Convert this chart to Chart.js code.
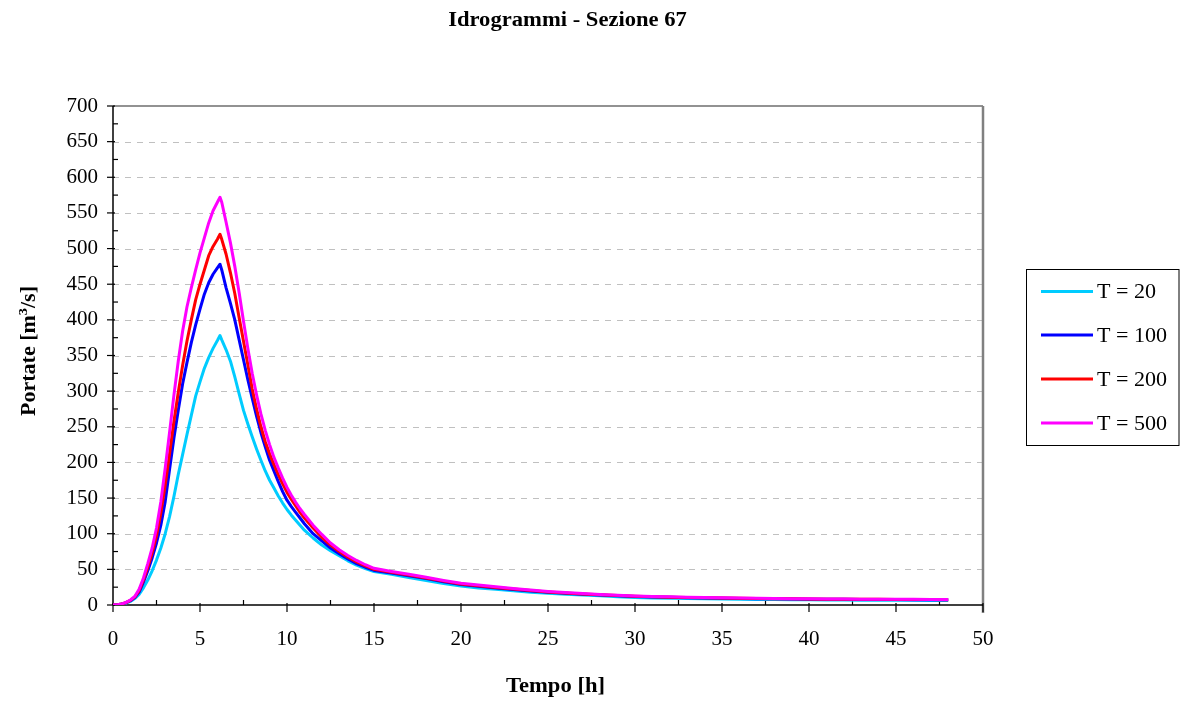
<!DOCTYPE html>
<html><head><meta charset="utf-8">
<script src="https://cdn.jsdelivr.net/npm/chart.js@4.4.1/dist/chart.umd.min.js"></script>
<style>html,body{margin:0;padding:0;background:#fff;}#wrap{width:1180px;height:709px;}</style>
</head><body><div id="wrap"><canvas id="c" width="1180" height="709"></canvas></div>
<script>
const chartTitle = 'Idrogrammi - Sezione 67';
const xTitle = 'Tempo [h]';
const yTitleMain = 'Portate [m';
const yTitleSup = '3';
const yTitleEnd = '/s]';
const seriesNames = ['T = 20', 'T = 100', 'T = 200', 'T = 500'];
const seriesColors = ['#00CCFF', '#0000FF', '#FF0000', '#FF00FF'];

const times = [0,0.25,0.5,0.75,
  1,1.25,1.5,1.75,2,2.25,2.5,2.75,3,3.25,3.5,3.75,4,4.25,4.5,4.75,5,5.25,5.5,5.75,6,
  6.15,
  6.25,6.5,6.75,7,7.25,7.5,7.75,8,8.25,8.5,8.75,9,9.25,9.5,9.75,10,10.25,10.5,10.75,11,
  11.5,12,12.5,13,13.5,14,14.5,15,
  16,17,18,19,20,21,22,23,24,25,26,27,28,29,30,31,32,33,34,35,36,37,38,39,40,41,42,43,44,45,46,47,48];

const q20 = [0,0.3,1,2.5,
  5,9,15,24,35,48,63,80,100,124,152,183,211,239,266,293,313,332,347,360,371,
  378,
  372,358,342,320,296,273,254,236,219,203,188,175,164,153,143,134,126,119,112,105,
  94,84,76,69,62,56,51,47,
  43,38.5,34.5,30,26.5,24,22,20,18,16.5,15.2,14,12.8,11.6,10.5,9.9,9.4,9,8.6,8.3,8,7.8,7.6,7.4,7.2,7,6.9,6.8,6.7,6.6,6.5,6.4,6.3];
const q100 = [0,0.3,1.3,3.2,
  6,10.5,18,32,48,66,87,112,145,190,234,273,310,340,368,393,415,436,452,464,473,
  478,
  470,445,423,400,372,344,316,290,265,242,222,203,188,173,159,147,138,130,122,114,
  100,90,80,72,64.5,58,53,48.5,
  45,41,37,32.5,28.8,26.3,24,21.7,19.7,17.9,16.5,15.1,13.9,12.8,11.8,11.2,10.7,10.2,9.8,9.4,9.1,8.8,8.6,8.4,8.2,8,7.9,7.8,7.7,7.6,7.5,7.4,7.3];
const q200 = [0,0.3,1.4,3.4,
  6.5,11,20,35,53,73,97,129,168,212,257,298,336,370,400,428,450,470,490,503,513,
  520,
  513,492,466,437,403,370,337,303,275,250,229,212,197,183,170,158,148,139,130,122,
  108,95,84,75,67,60.5,55,50,
  46,42,38,33.5,29.5,27,24.7,22.3,20.3,18.4,17,15.5,14.3,13.2,12.2,11.6,11,10.5,10.1,9.7,9.4,9.1,8.8,8.6,8.4,8.2,8.1,8,7.9,7.8,7.7,7.6,7.5];
const q500 = [0,0.3,1.5,3.6,
  7,12,22,38,58,80,108,145,192,242,294,342,384,418,445,470,494,515,536,553,565,
  572,
  565,537,508,475,438,398,360,325,295,268,245,225,207,192,178,165,154,144,135,127,
  112,99,87,77.5,69.5,62.5,56.5,51.5,
  47,43,39,34.5,30.5,28,25.5,23,21,19,17.5,16,14.8,13.6,12.6,12,11.4,10.9,10.4,10,9.7,9.4,9.1,8.9,8.7,8.5,8.3,8.2,8.1,8,7.9,7.8,7.7];
const seriesValues = [q20, q100, q200, q500];

const xMin = 0, xMax = 50, xStep = 5, xMinorStep = 2.5;
const yMin = 0, yMax = 700, yStep = 50, yMinorStep = 25;

function ln(ctx, x1, y1, x2, y2) { ctx.beginPath(); ctx.moveTo(x1, y1); ctx.lineTo(x2, y2); ctx.stroke(); }

const framePlugin = {
  id: 'frame',
  beforeDatasetsDraw(chart) {
    const { ctx, chartArea: a, scales: { x, y } } = chart;
    ctx.save();
    ctx.strokeStyle = '#C0C0C0'; ctx.lineWidth = 1; ctx.setLineDash([6, 6]);
    y.ticks.forEach(t => {
      if (t.value <= yMin || t.value >= yMax) return;
      const py = Math.round(y.getPixelForValue(t.value)) + 0.5;
      ln(ctx, a.left, py, a.right, py);
    });
    ctx.setLineDash([]);
    ctx.strokeStyle = '#6E6E6E'; ctx.lineWidth = 1.5;
    ln(ctx, a.left, a.top, a.right, a.top);
    ctx.strokeStyle = '#808080'; ctx.lineWidth = 2.5;
    ln(ctx, a.right, a.top, a.right, a.bottom + 8);
    ctx.strokeStyle = '#000'; ctx.lineWidth = 1.5;
    ln(ctx, a.left, a.top, a.left, a.bottom);
    ln(ctx, a.left, a.bottom, a.right, a.bottom);
    ctx.lineWidth = 1.2;
    for (let v = yMin; v <= yMax; v += yMinorStep) {
      const py = y.getPixelForValue(v);
      if (v % yStep === 0) ln(ctx, a.left - 6, py, a.left + 2, py);
      else ln(ctx, a.left, py, a.left + 5, py);
    }
    for (let t = xMin; t <= xMax; t += xMinorStep) {
      const px = x.getPixelForValue(t);
      if (t % xStep === 0) ln(ctx, px, a.bottom - 2, px, a.bottom + 7);
      else ln(ctx, px, a.bottom - 5, px, a.bottom);
    }
    ctx.restore();
  },
  afterDraw(chart) {
    const { ctx } = chart;
    ctx.save();
    ctx.fillStyle = '#000';
    ctx.font = 'bold 20px "Liberation Serif"';
    ctx.textAlign = 'center'; ctx.textBaseline = 'alphabetic';
    ctx.save(); ctx.translate(567.5, 26); ctx.scale(1.13, 1); ctx.fillText(chartTitle, 0, 0); ctx.restore();
    ctx.save(); ctx.translate(555.5, 692); ctx.scale(1.13, 1); ctx.fillText(xTitle, 0, 0); ctx.restore();
    ctx.save();
    ctx.translate(35, 351); ctx.rotate(-Math.PI / 2); ctx.scale(1.1, 1);
    ctx.textAlign = 'left';
    const fMain = 'bold 20px "Liberation Serif"', fSup = 'bold 13px "Liberation Serif"';
    ctx.font = fMain; const w1 = ctx.measureText(yTitleMain).width, w3 = ctx.measureText(yTitleEnd).width;
    ctx.font = fSup; const w2 = ctx.measureText(yTitleSup).width;
    let sx = -(w1 + w2 + w3) / 2;
    ctx.font = fMain; ctx.fillText(yTitleMain, sx, 0); sx += w1;
    ctx.font = fSup; ctx.fillText(yTitleSup, sx, -8); sx += w2;
    ctx.font = fMain; ctx.fillText(yTitleEnd, sx, 0);
    ctx.restore();
    ctx.strokeStyle = '#000'; ctx.lineWidth = 1;
    ctx.strokeRect(1026.5, 269.5, 152.5, 176);
    const rows = [291.5, 335, 379, 423];
    chart.data.datasets.forEach((ds, i) => {
      ctx.strokeStyle = ds.borderColor; ctx.lineWidth = 3;
      ln(ctx, 1041, rows[i], 1093, rows[i]);
      ctx.save();
      ctx.translate(1097, rows[i]); ctx.scale(1.05, 1);
      ctx.font = '21px "Liberation Serif"'; ctx.textAlign = 'left'; ctx.textBaseline = 'middle';
      ctx.fillStyle = '#000';
      ctx.fillText(ds.label, 0, 1);
      ctx.restore();
    });
    ctx.restore();
  }
};

const datasets = seriesNames.map((name, i) => ({
  label: name,
  data: times.map((t, k) => ({ x: t, y: seriesValues[i][k] })),
  borderColor: seriesColors[i],
  backgroundColor: seriesColors[i],
  borderWidth: 3,
  pointRadius: 0,
  fill: false,
  tension: 0,
  borderJoinStyle: 'round',
  order: seriesNames.length - i
}));

new Chart(document.getElementById('c'), {
  type: 'line',
  data: { datasets },
  options: {
    responsive: false,
    animation: false,
    devicePixelRatio: 1,
    layout: { padding: { left: 0, top: 106, right: 197, bottom: 0 } },
    plugins: { legend: { display: false }, title: { display: false }, tooltip: { enabled: false } },
    scales: {
      x: {
        type: 'linear', min: xMin, max: xMax,
        ticks: { stepSize: xStep, color: '#000', padding: 22, maxRotation: 0,
                 font: { family: 'Liberation Serif', size: 21 } },
        grid: { display: false, drawTicks: false },
        border: { display: false },
        afterFit(s) { s.height = 104; }
      },
      y: {
        type: 'linear', min: yMin, max: yMax,
        ticks: { stepSize: yStep, color: '#000', padding: 15,
                 font: { family: 'Liberation Serif', size: 21 } },
        grid: { display: false, drawTicks: false },
        border: { display: false },
        afterFit(s) { s.width = 113; }
      }
    }
  },
  plugins: [framePlugin]
});
</script></body></html>
